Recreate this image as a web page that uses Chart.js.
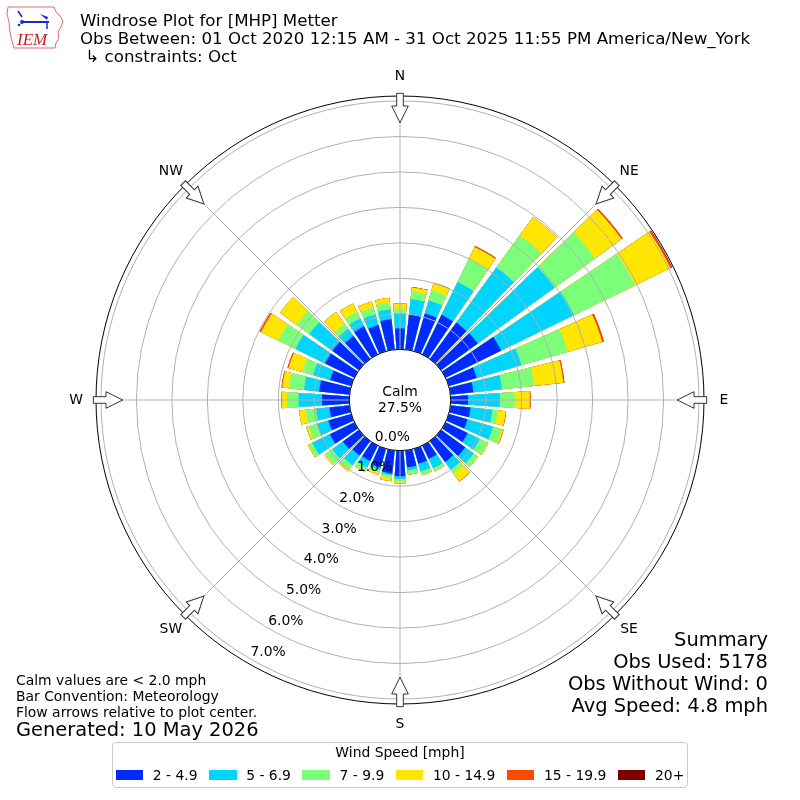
<!DOCTYPE html>
<html>
<head>
<meta charset="utf-8">
<title>Windrose Plot for [MHP] Metter</title>
<script src="https://cdn.jsdelivr.net/npm/chart.js@4.4.1/dist/chart.umd.min.js"></script>
<style>
  body { margin: 0; background: #fff; }
  #wrap { position: relative; width: 800px; height: 800px; font-family: "DejaVu Sans", sans-serif; color: #000; overflow: hidden; }
  #rose { position: absolute; left: 0; top: 0; }
  .txt { position: absolute; white-space: pre; line-height: 1.164; }
  .title { left: 80px; font-size: 16.67px; }
  .note { left: 16px; font-size: 13.9px; }
  #summary { position: absolute; right: 32px; top: 629px; font-size: 19.44px; line-height: 22px; text-align: right; white-space: pre; }
  #legend { position: absolute; left: 112px; top: 742px; width: 576px; height: 46px; box-sizing: border-box;
            border: 1px solid #cccccc; border-radius: 4px; background: #fff; font-size: 13.9px; }
  #legend .ltitle { position: absolute; left: 0; right: 0; top: 1px; text-align: center; line-height: 1.164; }
  #legend .row { position: absolute; left: 0; right: 0; top: 24px; height: 16px; display: flex; justify-content: center; align-items: center; }
  #legend .sw { width: 27.6px; height: 9.6px; margin-right: 9.5px; }
  #legend .lab { margin-right: 11.5px; white-space: pre; }
  #legend .lab:last-child { margin-right: 0; }
</style>
</head>
<body>
<div id="wrap">
  <canvas id="rose" width="800" height="800"></canvas>

  <!-- IEM logo (rough) -->
  <svg style="position:absolute;left:0;top:0" width="70" height="55" viewBox="0 0 70 55">
    <path d="M8 7 L54 7 L56 12 L60 16 L63 21 L61 27 L58 32 L59 38 L56 43 L55 48 L14 48 L12 41 L10 32 L9 22 L7 14 Z"
          fill="none" stroke="#e06a6a" stroke-width="1"/>
    <path d="M18 11 L22 17" stroke="#1a2ad0" stroke-width="1.5" fill="none"/>
    <circle cx="22" cy="22" r="2" fill="#1a2ad0"/>
    <path d="M22 22 L49 22" stroke="#1a2ad0" stroke-width="2" fill="none"/>
    <path d="M40 14 L48 17 L47 20 Z" fill="#1a2ad0"/>
    <path d="M47 22 L47 29" stroke="#1a2ad0" stroke-width="1.5" fill="none"/>
    <circle cx="19" cy="25" r="1.3" fill="#1a2ad0"/>
    <text x="17" y="45" font-family="Liberation Serif, DejaVu Serif, serif" font-style="italic" font-size="17" fill="#c8202a">IEM</text>
  </svg>

  <div class="txt title" style="top:11px">Windrose Plot for [MHP] Metter</div>
  <div class="txt title" style="top:29px">Obs Between: 01 Oct 2020 12:15 AM - 31 Oct 2025 11:55 PM America/New_York</div>
  <div class="txt title" style="top:47px"> ↳ constraints: Oct</div>

  <div class="txt note" style="top:672px">Calm values are &lt; 2.0 mph</div>
  <div class="txt note" style="top:688px">Bar Convention: Meteorology</div>
  <div class="txt note" style="top:704px">Flow arrows relative to plot center.</div>
  <div class="txt" style="left:16px;top:719px;font-size:19.44px">Generated: 10 May 2026</div>

  <div id="summary"></div>

  <div id="legend">
    <div class="ltitle">Wind Speed [mph]</div>
    <div class="row" id="legendRow"></div>
  </div>
</div>

<script>
const directions = [0, 10, 20, 30, 40, 50, 60, 70, 80, 90, 100, 110, 120, 130, 140, 150, 160, 170,
                    180, 190, 200, 210, 220, 230, 240, 250, 260, 270, 280, 290, 300, 310, 320, 330, 340, 350];
const speedBins = ['2 - 4.9', '5 - 6.9', '7 - 9.9', '10 - 14.9', '15 - 19.9', '20+'];
const binColors = ['#002aff', '#00d4ff', '#7bff7b', '#ffe600', '#ff4800', '#800000'];

const pct2to5 = [0.59, 1.00, 1.11, 1.24, 1.27, 1.28, 1.74, 0.82, 0.65, 0.49,
                 0.57, 0.55, 0.69, 0.84, 0.73, 0.42, 0.44, 0.48, 0.72,
                 0.65, 0.55, 0.48, 0.50, 0.56, 0.77, 0.67, 0.57, 0.77,
                 0.86, 0.62, 0.92, 0.93, 0.80, 0.88, 0.77, 0.86];
const pct5to7 = [0.42, 0.43, 0.38, 1.03, 1.92, 2.68, 2.29, 1.31, 0.81, 0.90,
                 0.62, 0.75, 0.38, 0.30, 0.27, 0.29, 0.23, 0.09, 0.08,
                 0.05, 0.07, 0.21, 0.34, 0.37, 0.55, 0.34, 0.38, 0.66,
                 0.43, 0.50, 0.93, 0.80, 0.25, 0.25, 0.31, 0.28];
const pct7to10 = [0.14, 0.22, 0.30, 0.72, 1.12, 1.41, 1.91, 1.36, 0.91, 0.42,
                  0.15, 0.25, 0.25, 0.14, 0.13, 0.09, 0.10, 0.10, 0.06,
                  0.08, 0.08, 0.11, 0.16, 0.23, 0.11, 0.24, 0.29, 0.33,
                  0.43, 0.31, 0.54, 0.44, 0.17, 0.20, 0.20, 0.19];
const pct10to15 = [0.14, 0.11, 0.21, 0.38, 0.64, 0.92, 1.11, 1.01, 0.83, 0.42,
                   0.23, 0.05, 0.02, 0.01, 0.27, 0.01, 0.01, 0.02, 0.06,
                   0.09, 0.06, 0.03, 0.05, 0.04, 0.03, 0.07, 0.19, 0.14,
                   0.19, 0.41, 0.54, 0.58, 0.42, 0.27, 0.18, 0.14];
const pct15to20 = [0.00, 0.01, 0.01, 0.03, 0.00, 0.04, 0.05, 0.05, 0.03, 0.02,
                   0.01, 0.01, 0.00, 0.00, 0.01, 0.00, 0.00, 0.00, 0.00,
                   0.00, 0.00, 0.00, 0.00, 0.00, 0.00, 0.00, 0.00, 0.01,
                   0.02, 0.03, 0.04, 0.00, 0.00, 0.00, 0.00, 0.00];
const pct20up = [0, 0, 0, 0, 0, 0, 0.01, 0, 0, 0,
                 0, 0, 0, 0, 0, 0, 0, 0, 0,
                 0, 0, 0, 0, 0, 0, 0, 0, 0,
                 0, 0, 0, 0, 0, 0, 0, 0];

const calmPct = 27.5;
const ringTicks = [0, 1, 2, 3, 4, 5, 6, 7];
const compassLabels = ['N', 'NE', 'E', 'SE', 'S', 'SW', 'W', 'NW'];
const summaryLines = ['Summary', 'Obs Used: 5178', 'Obs Without Wind: 0', 'Avg Speed: 4.8 mph'];

// ---------------- layout constants ----------------
const R_MIN = -1.43;      // hole in the middle for the calm circle
const R_MAX = 7.14;
const BAR_DEG = 8;        // each bar covers 8 of its 10 degrees
const LABEL_DEG = 210;    // direction of the percent labels

// slots run clockwise from north: half of N, then gap/bar pairs, then the other half of N
const slotDir = [0];
const slotAngle = [BAR_DEG / 2];
for (let d = 1; d < directions.length; d++) {
  slotDir.push(-1, d);
  slotAngle.push(10 - BAR_DEG, BAR_DEG);
}
slotDir.push(-1, 0);
slotAngle.push(10 - BAR_DEG, BAR_DEG / 2);

function buildDatasets() {
  const bins = [pct2to5, pct5to7, pct7to10, pct10to15, pct15to20, pct20up];
  const running = directions.map(() => 0);
  return bins.map((vals, k) => {
    vals.forEach((v, d) => { running[d] += v; });
    const cum = running.slice();
    return {
      label: speedBins[k],
      data: slotDir.map(d => d < 0 ? 0 : +cum[d].toFixed(3)),
      backgroundColor: ctx => slotDir[ctx.dataIndex] < 0 ? 'rgba(0,0,0,0)' : binColors[k],
      angle: ctx => slotAngle[ctx.dataIndex],
      borderWidth: 0
    };
  });
}

// ---------------- decorations: calm circle, labels, flow arrows ----------------
function drawArrow(ctx, cx, cy, ang, tail, tip) {
  const head = tip + 16.7;
  ctx.save();
  ctx.translate(cx, cy);
  ctx.rotate(ang);
  ctx.beginPath();
  ctx.moveTo(-3.3, -tail);
  ctx.lineTo(3.3, -tail);
  ctx.lineTo(3.3, -head);
  ctx.lineTo(8.3, -head);
  ctx.lineTo(0, -tip);
  ctx.lineTo(-8.3, -head);
  ctx.lineTo(-3.3, -head);
  ctx.closePath();
  ctx.fillStyle = '#fff';
  ctx.fill();
  ctx.lineWidth = 1;
  ctx.strokeStyle = '#333';
  ctx.stroke();
  ctx.restore();
}

const roseDecor = {
  id: 'roseDecor',
  afterDraw(chart) {
    const s = chart.scales.r;
    const ctx = chart.ctx;
    const cx = s.xCenter, cy = s.yCenter;
    const r0 = s.getDistanceFromCenterForValue(0);
    ctx.save();

    ctx.beginPath();
    ctx.arc(cx, cy, r0, 0, Math.PI * 2);
    ctx.fillStyle = '#fff';
    ctx.fill();
    ctx.lineWidth = 1;
    ctx.strokeStyle = '#000';
    ctx.stroke();

    ctx.fillStyle = '#000';
    ctx.font = '13.9px "DejaVu Sans"';
    ctx.textAlign = 'center';
    ctx.textBaseline = 'middle';
    ctx.fillText('Calm', cx, cy - 8);
    ctx.fillText(calmPct.toFixed(1) + '%', cx, cy + 8);

    const a = LABEL_DEG * Math.PI / 180;
    ctx.textAlign = 'left';
    ctx.textBaseline = 'bottom';
    ringTicks.forEach(v => {
      const d = s.getDistanceFromCenterForValue(v);
      ctx.fillText(v.toFixed(1) + '%', cx + d * Math.sin(a), cy - d * Math.cos(a));
    });

    ctx.textAlign = 'center';
    ctx.textBaseline = 'middle';
    compassLabels.forEach((lab, i) => {
      const p = s.getPointPosition(i, s.drawingArea + 20);
      ctx.fillText(lab, p.x, p.y);
      drawArrow(ctx, cx, cy, s.getIndexAngle(i), s.drawingArea + 2.7, s.drawingArea - 26.7);
    });
    ctx.restore();
  }
};

// ---------------- chart ----------------
new Chart(document.getElementById('rose'), {
  type: 'polarArea',
  data: { labels: compassLabels, datasets: buildDatasets() },
  options: {
    responsive: false,
    animation: false,
    events: [],
    layout: { padding: 96 },
    plugins: { legend: { display: false }, tooltip: { enabled: false } },
    scales: {
      r: {
        min: R_MIN,
        max: R_MAX,
        startAngle: 0,
        ticks: { display: false },
        afterBuildTicks: scale => { scale.ticks = ringTicks.concat([R_MAX]).map(v => ({ value: v })); },
        grid: {
          z: 1,
          circular: true,
          lineWidth: 1,
          color: ctx => (ctx.tick && ctx.tick.value >= R_MAX - 1e-6) ? '#000' : '#b0b0b0'
        },
        angleLines: { display: true, color: '#b0b0b0', lineWidth: 1 },
        pointLabels: { display: false }
      }
    }
  },
  plugins: [roseDecor]
});

// ---------------- html bits ----------------
document.getElementById('summary').textContent = summaryLines.join('\n');
document.getElementById('legendRow').innerHTML = speedBins.map((b, i) =>
  `<span class="sw" style="background:${binColors[i]}"></span><span class="lab">${b}</span>`
).join('');
</script>
</body>
</html>
